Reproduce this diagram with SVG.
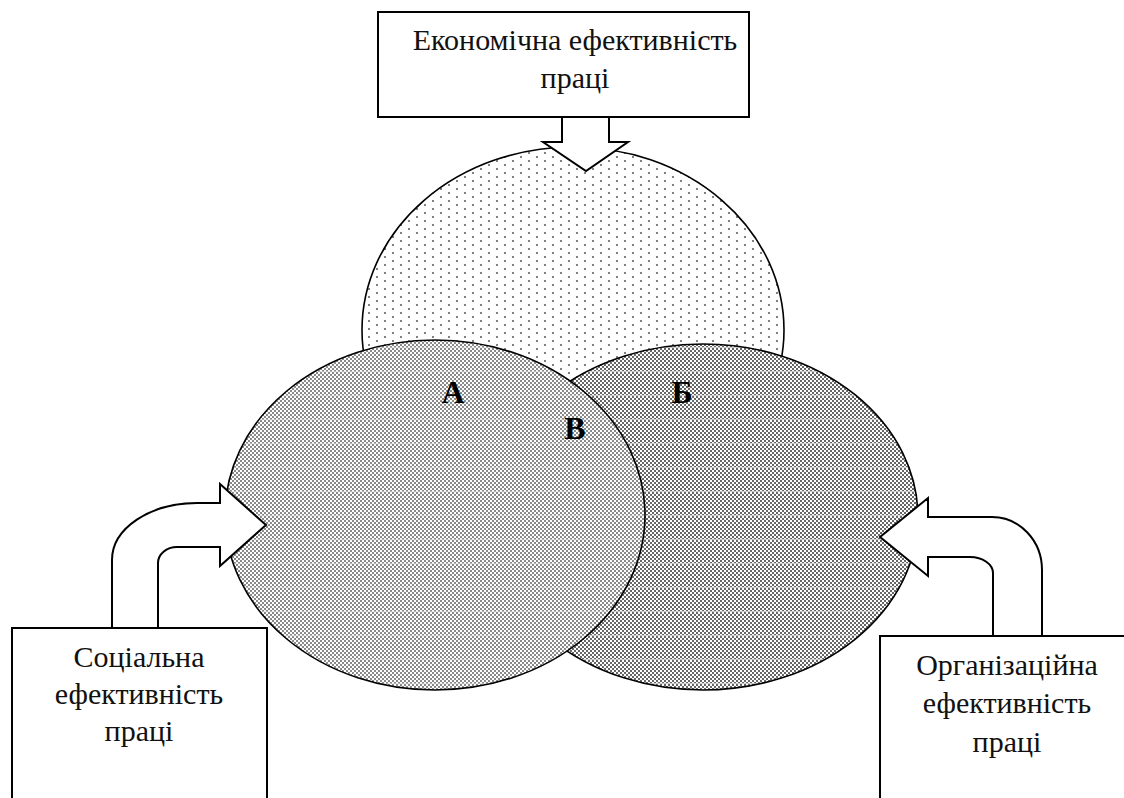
<svg xmlns="http://www.w3.org/2000/svg" width="1124" height="798" viewBox="0 0 1124 798">
<style>
.box{fill:#fff;stroke:#000;stroke-width:2}
.arrow{fill:#fff;stroke:#000;stroke-width:2;stroke-linejoin:miter}
.ell{stroke:#000;stroke-width:1.6}
.t{font-family:"Liberation Serif","Times New Roman",serif;font-size:30px;fill:#111;text-anchor:middle}
.lbl{font-family:"Liberation Serif","Times New Roman",serif;font-size:32px;font-weight:bold;fill:#000;text-anchor:middle}
</style>
<defs>
<pattern id="dots" patternUnits="userSpaceOnUse" width="16" height="8">
<rect width="16" height="8" fill="#fff"/>
<rect x="0" y="0" width="2" height="2" fill="#808080"/>
<rect x="8" y="4" width="2" height="2" fill="#808080"/>
</pattern>
<pattern id="checkL" patternUnits="userSpaceOnUse" width="4" height="24">
<rect width="4" height="24" fill="#fff"/>
<path d="M0,0h2v2h-2zM2,2h2v2h-2zM0,4h2v2h-2zM2,6h2v2h-2zM0,8h2v2h-2zM2,10h2v2h-2zM0,12h2v2h-2zM2,14h2v2h-2zM0,16h2v2h-2zM2,18h2v2h-2zM0,20h2v2h-2zM2,22h2v2h-2z" fill="#8a8a8a"/>
<rect x="0" y="11" width="4" height="1" fill="#ddd" opacity="0.5"/>
</pattern>
<pattern id="checkR" patternUnits="userSpaceOnUse" width="4" height="24">
<rect width="4" height="24" fill="#fff"/>
<path d="M0,0h2v2h-2zM2,2h2v2h-2zM0,4h2v2h-2zM2,6h2v2h-2zM0,8h2v2h-2zM2,10h2v2h-2zM0,12h2v2h-2zM2,14h2v2h-2zM0,16h2v2h-2zM2,18h2v2h-2zM0,20h2v2h-2zM2,22h2v2h-2z" fill="#666"/>
<rect x="0" y="11" width="4" height="1" fill="#ccc"/>
</pattern>
</defs>

<g id="circle-economic">
<ellipse class="ell" cx="573" cy="330" rx="211" ry="183" fill="url(#dots)"/>
</g>
<g id="circle-organizational">
<ellipse class="ell" cx="703" cy="517" rx="215" ry="173" fill="url(#checkR)"/>
</g>
<g id="circle-social">
<ellipse class="ell" cx="435" cy="515" rx="210" ry="175" fill="url(#checkL)"/>
</g>

<g id="connectors">
<path class="arrow" d="M562,117 L562,142 L543,142 L586,171 L628,142 L609,142 L609,117 Z"/>
<path class="arrow" d="M112,628 L112,560 C112,528.5 150,503 197,503 L220,503 L220,484 L266,525 L220,566 L220,547 L177,547 C166.5,547 158,554.2 158,563 L158,628 Z"/>
<path class="arrow" d="M1042,636 L1042,570 C1042,540.7 1019.6,517 992,517 L928,517 L928,498 L880,537 L928,576 L928,557 L970,557 C982.7,557 993,564.2 993,573 L993,636 Z"/>
</g>

<g id="node-economic">
<rect class="box" x="378" y="12" width="371" height="105"/>
<text class="t" x="575" y="50">Економічна ефективність</text>
<text class="t" x="575" y="88">праці</text>
</g>
<g id="node-social">
<rect class="box" x="12" y="628" width="255" height="200"/>
<text class="t" x="139" y="667">Соціальна</text>
<text class="t" x="139" y="704">ефективність</text>
<text class="t" x="139" y="741">праці</text>
</g>
<g id="node-organizational">
<rect class="box" x="880" y="636" width="260" height="200"/>
<text class="t" x="1007" y="675">Організаційна</text>
<text class="t" x="1007" y="713">ефективність</text>
<text class="t" x="1007" y="752">праці</text>
</g>
<g id="labels">
<text class="lbl" x="453" y="403">А</text>
<text class="lbl" x="682" y="403">Б</text>
<text class="lbl" x="575" y="439">В</text>
</g>
</svg>
